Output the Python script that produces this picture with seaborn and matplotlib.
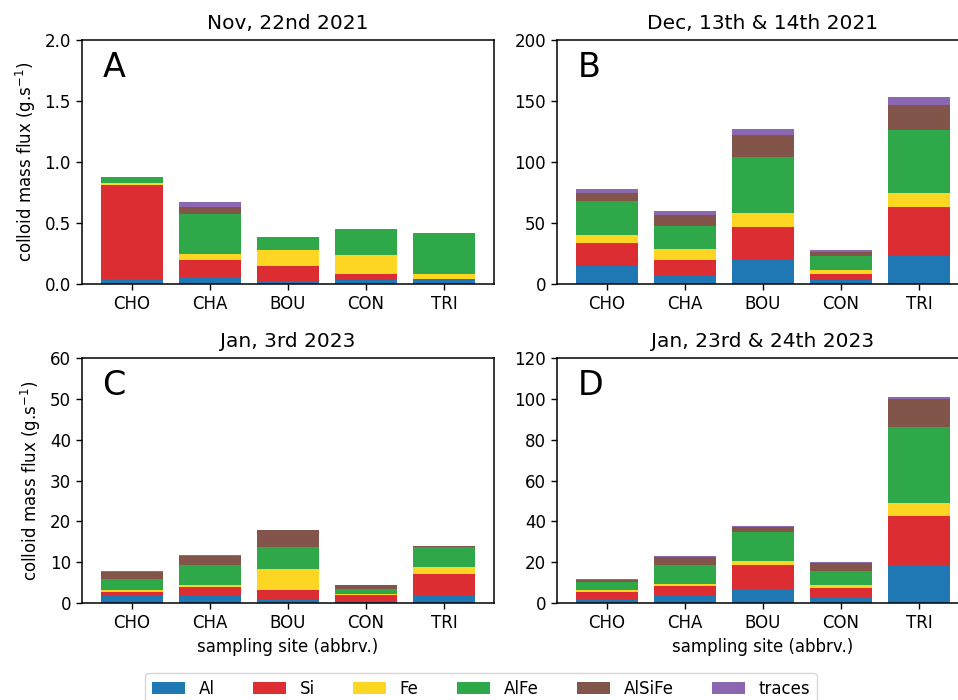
import matplotlib
matplotlib.use("Agg")
import matplotlib.pyplot as plt
import seaborn as sns
import numpy as np

sites = ["CHO", "CHA", "BOU", "CON", "TRI"]
components = ["Al", "Si", "Fe", "AlFe", "AlSiFe", "traces"]
colors = ["#1f77b4", "#dc2d32", "#fdd523", "#2ea848", "#82544a", "#8d68b2"]

titles = ["Nov, 22nd 2021", "Dec, 13th & 14th 2021", "Jan, 3rd 2023", "Jan, 23rd & 24th 2023"]
letters = ["A", "B", "C", "D"]

# values per panel: rows = components (Al, Si, Fe, AlFe, AlSiFe, traces), cols = sites
panel_A = [
    [0.040, 0.055, 0.022, 0.033, 0.040],
    [0.770, 0.140, 0.125, 0.050, 0.002],
    [0.020, 0.050, 0.130, 0.155, 0.040],
    [0.050, 0.330, 0.105, 0.205, 0.338],
    [0.000, 0.060, 0.000, 0.003, 0.000],
    [0.000, 0.040, 0.000, 0.005, 0.000],
]
panel_B = [
    [14.5, 7.4, 19.9, 3.0, 22.9],
    [19.3, 12.2, 27.0, 4.9, 40.4],
    [6.3, 9.0, 11.2, 3.3, 11.5],
    [27.6, 18.6, 46.4, 11.4, 51.3],
    [7.1, 9.3, 18.0, 3.3, 21.0],
    [3.0, 3.0, 4.4, 1.9, 6.2],
]
panel_C = [
    [1.7, 2.0, 0.7, 0.5, 2.0],
    [0.9, 1.85, 2.5, 1.4, 5.1],
    [0.6, 0.55, 5.2, 0.2, 1.6],
    [2.8, 4.9, 5.2, 1.4, 5.1],
    [1.5, 2.3, 4.2, 0.8, 0.05],
    [0.3, 0.2, 0.15, 0.1, 0.1],
]
panel_D = [
    [2.0, 3.9, 7.0, 2.8, 18.5],
    [3.6, 4.3, 11.7, 4.7, 24.0],
    [0.8, 1.3, 1.8, 1.4, 6.7],
    [3.8, 9.0, 14.1, 6.7, 37.0],
    [1.3, 4.1, 2.6, 3.9, 13.6],
    [0.5, 0.4, 0.5, 0.5, 1.0],
]
panels = [panel_A, panel_B, panel_C, panel_D]
ymax = [2.0, 200, 60, 120]
ystep = [0.5, 50, 10, 20]

W, H = 958, 700
fig = plt.figure(figsize=(W / 100, H / 100), dpi=100)

# axes positions in pixels (left, top, right, bottom)
boxes = [(82, 40, 494, 284), (557, 40, 969, 284), (82, 358, 494, 603), (557, 358, 969, 603)]
axes = []
for (l, t, r, b) in boxes:
    ax = fig.add_axes([l / W, (H - b) / H, (r - l) / W, (b - t) / H])
    axes.append(ax)

for i, ax in enumerate(axes):
    data = np.array(panels[i], dtype=float)
    cum = np.zeros(len(sites))
    for j, comp in enumerate(components):
        sns.barplot(x=sites, y=data[j], bottom=cum, color=colors[j], width=0.8,
                    ax=ax, label=comp, saturation=1, edgecolor="none", linewidth=0)
        cum = cum + data[j]
    ax.set_xlim(-0.64, 4.64)
    ax.set_ylim(0, ymax[i])
    ax.set_yticks(np.arange(0, ymax[i] + ystep[i] / 2, ystep[i]))
    if i == 0:
        ax.set_yticklabels([f"{v:.1f}" for v in np.arange(0, 2.01, 0.5)])
    ax.set_title(titles[i], fontsize=14.5, pad=8)
    ax.text(0.05, 0.955, letters[i], transform=ax.transAxes, fontsize=24, va="top", ha="left")
    ax.tick_params(labelsize=12, length=4.5, width=1)
    for s in ax.spines.values():
        s.set_linewidth(1.1)
    if i in (0, 2):
        ax.set_ylabel("colloid mass flux (g.s$^{-1}$)", fontsize=12, labelpad=5)
    else:
        ax.set_ylabel("")
    if i in (2, 3):
        ax.set_xlabel("sampling site (abbrv.)", fontsize=12)
    else:
        ax.set_xlabel("")
    if ax.get_legend() is not None:
        ax.get_legend().remove()

handles, labels = axes[0].get_legend_handles_labels()
fig.legend(handles[:6], labels[:6], loc="upper center", bbox_to_anchor=(481 / W, 1 - 673 / H),
           ncol=6, fontsize=12, frameon=True, columnspacing=2.3, borderaxespad=0)

fig.savefig("out.png", dpi=100)
